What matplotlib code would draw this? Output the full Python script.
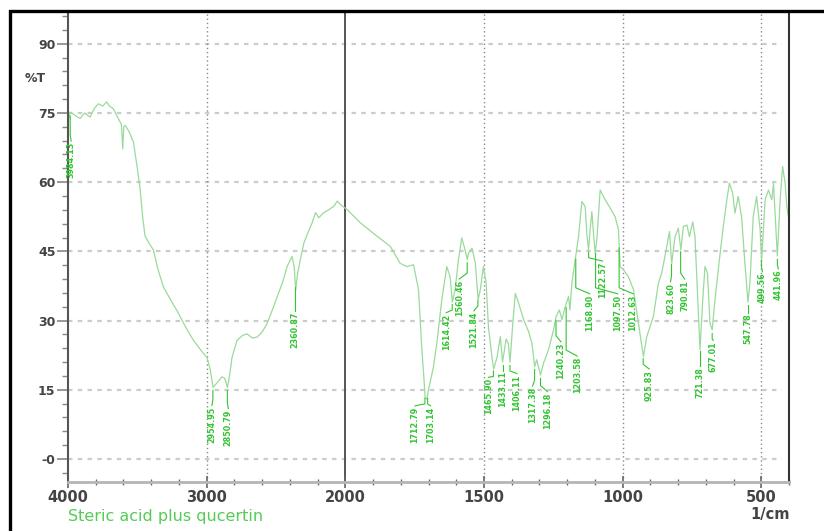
import matplotlib
matplotlib.use("Agg")
import matplotlib.pyplot as plt
from matplotlib.patches import Rectangle
from matplotlib.ticker import FixedLocator, FixedFormatter
import numpy as np

plt.rcParams['font.family'] = ['DejaVu Sans']

# spectrum (1/cm, %T)
wavenumber = [4000, 3986, 3950, 3913, 3880, 3841, 3810, 3781, 3750, 3721, 3700, 3673, 3637,
              3615, 3605, 3598, 3588, 3560, 3528, 3500, 3480, 3460, 3444, 3410, 3384, 3350,
              3312, 3260, 3215, 3150, 3095, 3040, 2998, 2975, 2954, 2925, 2890, 2870, 2850,
              2835, 2817, 2781, 2740, 2709, 2670, 2637, 2600, 2565, 2530, 2492, 2450, 2420,
              2384, 2368, 2358, 2345, 2320, 2299, 2270, 2239, 2215, 2191, 2155, 2120, 2082,
              2058, 2030, 1994, 1946, 1886, 1838, 1802, 1778, 1754, 1736, 1724, 1716, 1712,
              1706, 1700, 1682, 1670, 1652, 1634, 1622, 1614, 1604, 1592, 1580, 1568, 1560,
              1556, 1543, 1531, 1521, 1513, 1502, 1492, 1484, 1471, 1465, 1453, 1441, 1433,
              1420, 1412, 1406, 1396, 1387, 1375, 1357, 1339, 1327, 1317, 1310, 1303, 1296,
              1285, 1267, 1249, 1240, 1228, 1219, 1207, 1195, 1190, 1183, 1171, 1159, 1147,
              1135, 1129, 1123, 1117, 1111, 1105, 1099, 1093, 1081, 1063, 1045, 1027, 1015,
              1009, 997, 979, 961, 943, 925, 913, 889, 871, 859, 843, 831, 823, 811, 799, 790,
              781, 768, 759, 747, 739, 729, 721, 711, 703, 694, 685, 677, 667, 651, 637, 624,
              615, 603, 595, 583, 571, 559, 548, 541, 529, 517, 504, 499, 486, 474, 462, 456,
              447, 442, 432, 423, 414, 408, 402]
transmittance = [72.5, 75.2, 74.5, 73.8, 75.0, 74.1, 76.0, 77.0, 76.5, 77.4, 76.5, 75.9, 73.8,
                 72.5, 67.2, 72.0, 72.3, 71.0, 68.7, 63.0, 58.5, 52.0, 48.3, 46.5, 45.3, 41.0,
                 37.3, 34.5, 32.2, 28.5, 25.7, 23.5, 22.0, 19.5, 15.5, 16.5, 17.8, 17.5, 15.5,
                 18.0, 22.0, 25.7, 26.8, 27.1, 26.2, 26.4, 27.5, 29.3, 32.0, 35.1, 38.5, 41.7,
                 43.9, 41.5, 36.6, 40.0, 43.9, 46.8, 49.0, 51.2, 53.4, 52.3, 53.4, 54.0, 54.8,
                 55.9, 55.0, 54.1, 51.2, 48.3, 46.1, 42.4, 41.7, 42.1, 36.7, 23.7, 17.0, 13.2,
                 13.0, 15.0, 20.0, 25.1, 34.5, 41.7, 39.5, 34.0, 36.7, 43.2, 47.9, 45.3, 43.2,
                 44.6, 45.7, 42.4, 34.5, 36.7, 41.7, 38.1, 28.7, 22.0, 19.5, 22.0, 26.5, 21.0,
                 26.0, 25.0, 21.0, 29.4, 35.9, 33.8, 30.2, 27.6, 25.1, 20.0, 21.5, 19.8, 18.2,
                 20.8, 23.7, 28.0, 30.9, 32.3, 30.2, 33.0, 35.2, 32.3, 38.1, 43.2, 48.2, 55.8,
                 54.7, 48.9, 45.3, 49.7, 53.6, 48.9, 44.6, 47.5, 58.3, 56.2, 54.4, 52.5, 49.7,
                 41.7, 41.0, 39.5, 36.7, 29.4, 22.2, 26.5, 30.9, 38.1, 40.3, 45.3, 49.3, 42.4,
                 48.2, 50.0, 45.3, 50.4, 50.7, 48.2, 51.4, 48.2, 34.5, 23.7, 34.5, 41.7, 40.3,
                 29.4, 28.0, 34.5, 43.2, 50.4, 56.2, 59.8, 57.6, 53.3, 56.9, 52.5, 42.4, 34.0,
                 38.1, 52.5, 56.9, 49.7, 43.0, 56.2, 58.3, 56.2, 59.8, 49.7, 44.0, 56.2, 63.4,
                 59.8, 54.7, 52.5]

# peak labels
peak_labels = ["3984.13", "2954.95", "2850.79", "2360.87", "1712.79", "1703.14", "1614.42",
               "1560.46", "1521.84", "1465.90", "1433.11", "1406.11", "1317.38", "1296.18",
               "1240.23", "1203.58", "1168.90", "1122.57", "1097.50", "1012.63", "925.83",
               "823.60", "790.81", "721.38", "677.01", "547.78", "499.56", "441.96"]
label_dx = [1, -1, 1, 0, -10, 3, -6, -8, -4, -5, 0, 7, -2, 7, 5, 11, 14, 14, 22, 14, 6,
            -1, 4, 0, 1, 0, 1, 1]
label_top = [68.7, 11.4, 10.7, 31.9, 11.3, 11.3, 31.5, 38.8, 31.9, 17.5, 19.0, 18.3, 15.6,
             14.4, 25.2, 22.1, 35.6, 42.7, 35.6, 35.6, 19.3, 38.2, 38.8, 20.0, 25.5, 31.5,
             40.4, 41.0]

ytick_vals = [0, 15, 30, 45, 60, 75, 90]
ytick_text = ["-0", "15", "30", "45", "60", "75", "90"]
xtick_vals = [4000, 3000, 2000, 1500, 1000, 500]

green = "#33c433"
curve_col = "#9ada9a"


# x axis: 4000-2000 is drawn at half the scale of 2000-400
def fwd(x):
    x = np.asarray(x, dtype=float)
    return np.where(x > 2000, 2000 + (x - 2000) * 0.5, x)


def inv(u):
    u = np.asarray(u, dtype=float)
    return np.where(u > 2000, 2000 + (u - 2000) * 2.0, u)


fig = plt.figure(figsize=(8.24, 5.31), dpi=100)
ax = fig.add_axes([68 / 824, 1 - 482 / 531, (789 - 68) / 824, (482 - 11.5) / 531])
ax.set_xscale('function', functions=(fwd, inv))
ax.set_xlim(4000, 400)
ax.set_ylim(-5, 97)

# grid
for yv in ytick_vals:
    ax.axhline(yv, xmin=0, xmax=0.99, color="#cccccc", lw=1.6, ls=(0, (2, 2.4)), zorder=0)
for xv in [3000, 1500, 1000, 500]:
    ax.axvline(xv, color="#8a8a8a", lw=1.0, ls=(0, (1, 2)), zorder=0)
ax.axvline(2000, color="#555555", lw=1.4, zorder=0)

ax.plot(wavenumber, transmittance, color=curve_col, lw=0.9, zorder=2)

# peak ticks and labels
wn_inc = np.array(wavenumber[::-1], dtype=float)
t_inc = np.array(transmittance[::-1], dtype=float)
for txt, dx, top in zip(peak_labels, label_dx, label_top):
    pk = float(txt)
    tc = np.interp(pk, wn_inc, t_inc)
    px, py = ax.transData.transform((pk, top))
    lx = ax.transData.inverted().transform((px + dx, py))[0]
    ax.plot([pk, pk, lx], [tc - 0.8, min(tc - 2.0, top + 1.5), top + 0.2],
            color=green, lw=0.8, zorder=3)
    ax.text(lx, top, txt, rotation=90, ha="center", va="top", fontsize=5.8,
            color=green, fontweight="bold", zorder=4)

# ticks
ax.yaxis.set_major_locator(FixedLocator(ytick_vals))
ax.yaxis.set_major_formatter(FixedFormatter(ytick_text))
ax.yaxis.set_minor_locator(FixedLocator(np.arange(-3, 97, 3)))
ax.tick_params(axis="y", which="major", direction="out", length=8, width=1.2,
               color="#888888", labelsize=9, labelcolor="#444444", pad=1)
ax.tick_params(axis="y", which="minor", direction="out", length=4, width=1.0,
               color="#888888")
for lab in ax.get_yticklabels():
    lab.set_fontweight("bold")

ax.xaxis.set_major_locator(FixedLocator(xtick_vals))
ax.xaxis.set_major_formatter(FixedFormatter([str(v) for v in xtick_vals]))
ax.xaxis.set_minor_locator(FixedLocator(list(range(4000, 2000, -200)) + list(range(2000, 399, -100))))
ax.tick_params(axis="x", which="major", direction="inout", length=8, width=1.2,
               color="#666666", labelsize=10.5, labelcolor="#444444", pad=1.5)
ax.tick_params(axis="x", which="minor", direction="inout", length=5, width=1.0,
               color="#666666")
for lab in ax.get_xticklabels():
    lab.set_fontweight("bold")

ax.spines["top"].set_visible(False)
ax.spines["left"].set_color("#555555")
ax.spines["left"].set_linewidth(1.5)
ax.spines["right"].set_color("#333333")
ax.spines["right"].set_linewidth(1.5)
ax.spines["bottom"].set_color("#b5b5b5")
ax.spines["bottom"].set_linewidth(2.0)

fig.text(25 / 824, 1 - 79 / 531, "%T", fontsize=9, color="#444444",
         fontweight="bold", va="center", ha="left")
fig.text(790 / 824, 1 - 514 / 531, "1/cm", fontsize=10.5, color="#444444",
         fontweight="bold", va="center", ha="right")
fig.text(68 / 824, 1 - 516 / 531, "Steric acid plus qucertin", fontsize=11.5,
         color="#55cc55", va="center", ha="left")

# black frame around the plot window
fig.patches.append(Rectangle((9.5 / 824, -0.1), 1.2, (531 - 10.5) / 531 + 0.1,
                             transform=fig.transFigure, fill=False, ec="black", lw=2.4))

fig.savefig("out.png", dpi=100, facecolor="white")
